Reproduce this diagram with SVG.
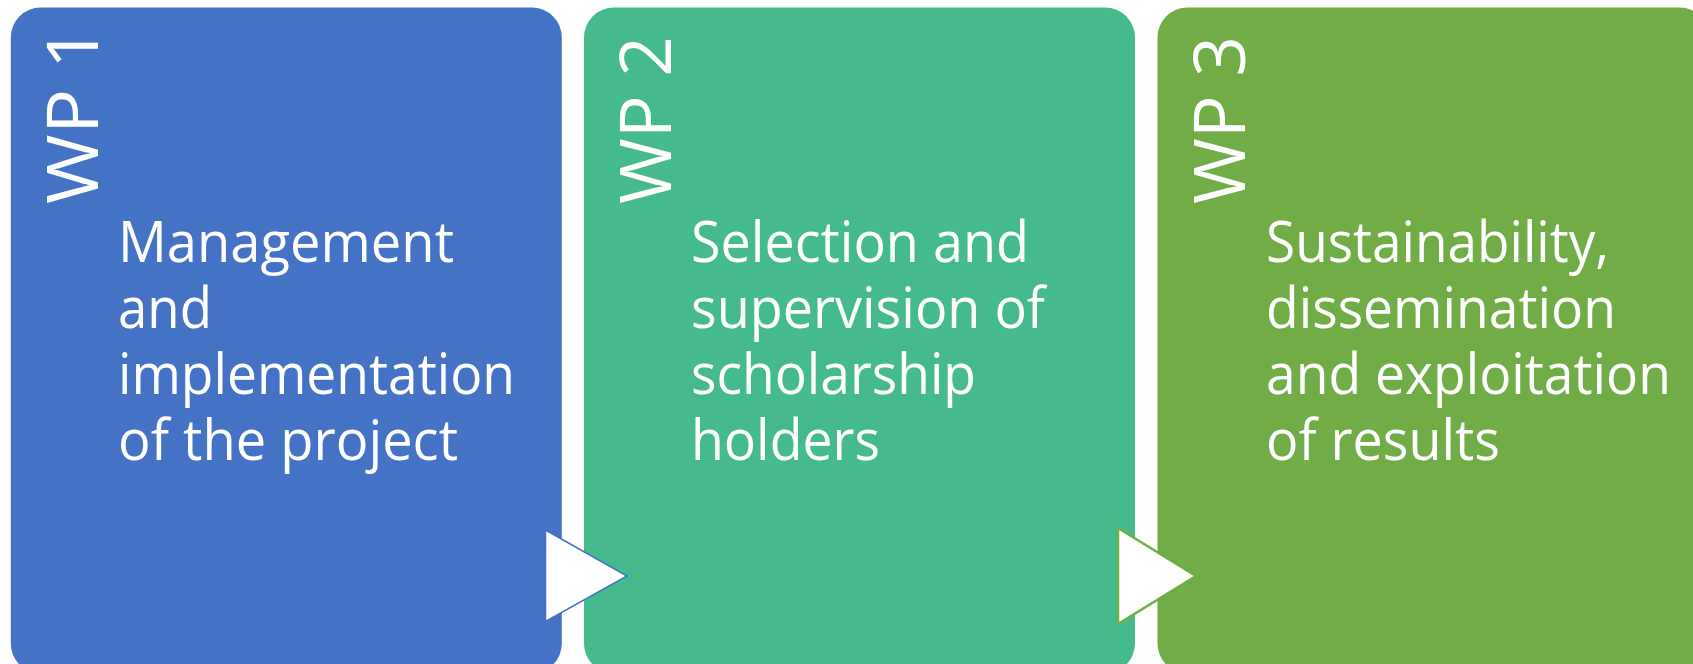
<svg xmlns="http://www.w3.org/2000/svg" width="1693" height="664" viewBox="0 0 1693 664">
<style>
.box{stroke:none}
.wp{font-family:"Open Sans","Liberation Sans",sans-serif;font-size:71px;fill:#fff}
.txt{font-family:"Open Sans","Liberation Sans",sans-serif;font-size:56px;fill:#fff}
.arr{fill:#fff;stroke-linejoin:miter}
</style>
<rect width="1693" height="664" fill="#fff"/>
<g id="wp1">
<rect class="box" x="10.8" y="7.5" width="551" height="666" rx="30" fill="#4472C4"/>
<text class="wp" transform="translate(97.5,204) rotate(-90)" textLength="178" lengthAdjust="spacingAndGlyphs">WP 1</text>
<text class="txt"><tspan x="118" y="261.5" textLength="336" lengthAdjust="spacingAndGlyphs">Management</tspan><tspan x="118" y="327.5" textLength="94" lengthAdjust="spacingAndGlyphs">and</tspan><tspan x="118" y="393.5" textLength="397" lengthAdjust="spacingAndGlyphs">implementation</tspan><tspan x="118" y="459.5" textLength="340" lengthAdjust="spacingAndGlyphs">of the project</tspan></text>
</g>
<g id="wp2">
<rect class="box" x="584" y="7.5" width="551" height="666" rx="30" fill="#45BB8D"/>
<text class="wp" transform="translate(671,204) rotate(-90)" textLength="168" lengthAdjust="spacingAndGlyphs">WP 2</text>
<text class="txt"><tspan x="691" y="261.5" textLength="338" lengthAdjust="spacingAndGlyphs">Selection and</tspan><tspan x="691" y="327.5" textLength="354" lengthAdjust="spacingAndGlyphs">supervision of</tspan><tspan x="691" y="393.5" textLength="285" lengthAdjust="spacingAndGlyphs">scholarship</tspan><tspan x="691" y="459.5" textLength="189" lengthAdjust="spacingAndGlyphs">holders</tspan></text>
</g>
<g id="wp3">
<rect class="box" x="1157.5" y="7.5" width="552" height="666" rx="30" fill="#70AD47"/>
<text class="wp" transform="translate(1245,204) rotate(-90)" textLength="168" lengthAdjust="spacingAndGlyphs">WP 3</text>
<text class="txt"><tspan x="1266" y="261.5" textLength="343" lengthAdjust="spacingAndGlyphs">Sustainability,</tspan><tspan x="1266" y="327.5" textLength="350" lengthAdjust="spacingAndGlyphs">dissemination</tspan><tspan x="1266" y="393.5" textLength="405" lengthAdjust="spacingAndGlyphs">and exploitation</tspan><tspan x="1266" y="459.5" textLength="234" lengthAdjust="spacingAndGlyphs">of results</tspan></text>
</g>
<g id="connectors">
<polygon class="arr" points="545.5,530 627,576 545.5,621.5" stroke="#4472C4" stroke-width="1.5"/>
<polygon class="arr" points="1118,528 1196,576 1118,624" stroke="#70AD47" stroke-width="2.5"/>
</g>
</svg>
